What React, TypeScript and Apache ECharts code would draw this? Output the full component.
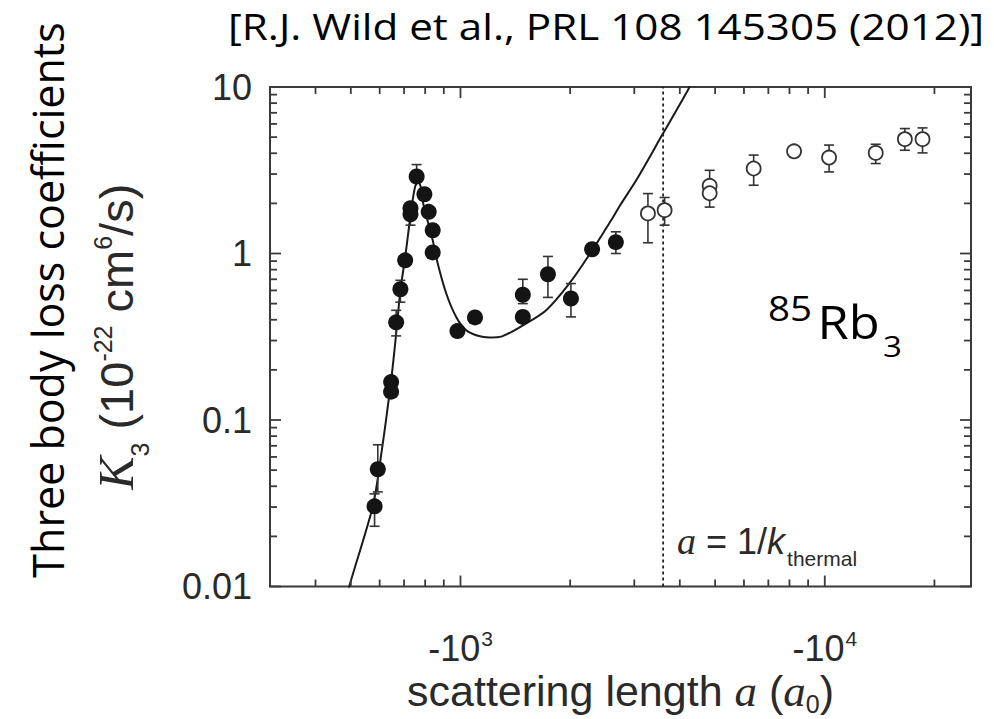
import React, { useEffect, useRef } from 'react';
import * as echarts from 'echarts';

// ---- data ----
// filled points (|a| in a0, K3 in 1e-22 cm^6/s) with error-bar bounds
const filledA = [581, 593, 645, 645, 666, 684, 705, 729, 729, 758, 796, 818, 839, 839, 981, 1096, 1483, 1483, 1738, 2010, 2298, 2670];
const filledK = [0.0303, 0.0506, 0.169, 0.148, 0.386, 0.61, 0.91, 1.72, 1.87, 2.9, 2.27, 1.78, 1.38, 1.015, 0.342, 0.413, 0.565, 0.416, 0.75, 0.537, 1.06, 1.17];
const filledLo = [0.023, 0.037, 0.16, 0.14, 0.32, 0.51, 0.85, 1.48, 1.8, 2.7, 2.1, 1.7, 1.3, 0.96, 0.32, 0.39, 0.5, 0.39, 0.545, 0.416, 1.0, 1.0];
const filledHi = [0.036, 0.071, 0.18, 0.155, 0.456, 0.69, 0.97, 1.8, 1.95, 3.42, 2.45, 1.86, 1.45, 1.07, 0.365, 0.44, 0.7, 0.44, 0.96, 0.66, 1.12, 1.35];

// open points
const openA = [3270, 3634, 4831, 4831, 6380, 8236, 10275, 13800, 16590, 18550];
const openK = [1.74, 1.82, 2.55, 2.3, 3.24, 4.11, 3.77, 4.02, 4.86, 4.86];
const openLo = [1.16, 1.48, 2.2, 1.9, 2.57, 3.8, 3.09, 3.47, 4.17, 4.02];
const openHi = [2.29, 2.17, 3.16, 2.6, 3.9, 4.37, 4.48, 4.53, 5.63, 5.68];

// theory curve
const curveA = [485, 495, 574, 599, 642, 666, 684, 705, 732, 750, 765, 778, 790, 839, 866, 914, 973, 1037, 1110, 1201, 1300, 1483, 1719, 2000, 2310, 2460, 2600, 2735, 3039, 3596, 4212, 4300];
const curveK = [0.0082, 0.01, 0.03, 0.052, 0.158, 0.33, 0.6, 0.95, 1.8, 2.5, 2.72, 2.5, 2.0, 1.2, 0.87, 0.575, 0.416, 0.346, 0.322, 0.313, 0.318, 0.37, 0.456, 0.67, 1.06, 1.32, 1.6, 1.93, 2.76, 5.25, 9.6, 10.6];

// a = 1/k_thermal marker
const thermalA = 3600;

// axes
const xMin = 300;
const xMax = 25200;
const yMin = 0.01;
const yMax = 10;
const xTickValues = [1000, 10000];
const xTickBase = ['-10', '-10'];
const xTickExp = ['3', '4'];
const xMinorTicks = [400, 500, 600, 700, 800, 900, 2000, 3000, 4000, 5000, 6000, 7000, 8000, 9000, 20000];
const yTickValues = [0.01, 0.1, 1, 10];
const yTickLabels = ['0.01', '0.1', '1', '10'];
const yMinorTicks = [0.02, 0.03, 0.04, 0.05, 0.06, 0.07, 0.08, 0.09, 0.2, 0.3, 0.4, 0.5, 0.6, 0.7, 0.8, 0.9, 2, 3, 4, 5, 6, 7, 8, 9];

const AXIS_COLOR = '#3a3a3a';
const TEXT_COLOR = '#2a2a2a';
const SANS = '"Liberation Sans", Arial, sans-serif';
const SERIF = '"Liberation Serif", "Times New Roman", serif';
const CAL = '"Open Sans", "Noto Sans", sans-serif';

export default function App() {
  const ref = useRef<HTMLDivElement>(null);

  useEffect(() => {
    if (!ref.current) return;
    const chart = echarts.init(ref.current, undefined, { renderer: 'svg' });

    const errRender = (params: any, api: any) => {
      const a = api.value(0);
      const lo = api.value(1);
      const hi = api.value(2);
      const p1 = api.coord([a, hi]);
      const p2 = api.coord([a, lo]);
      const w = 5;
      const st = { stroke: '#333', lineWidth: 1.6 };
      return {
        type: 'group',
        children: [
          { type: 'line', shape: { x1: p1[0], y1: p1[1], x2: p2[0], y2: p2[1] }, style: st },
          { type: 'line', shape: { x1: p1[0] - w, y1: p1[1], x2: p1[0] + w, y2: p1[1] }, style: st },
          { type: 'line', shape: { x1: p2[0] - w, y1: p2[1], x2: p2[0] + w, y2: p2[1] }, style: st },
        ],
      };
    };

    const xTickRender = (params: any, api: any) => {
      const cs = params.coordSys;
      const px = api.coord([api.value(0), 1])[0];
      const len = api.value(2) ? 11 : 7;
      const st = { stroke: AXIS_COLOR, lineWidth: 1.8 };
      const top = cs.y;
      const bot = cs.y + cs.height;
      return {
        type: 'group',
        children: [
          { type: 'line', shape: { x1: px, y1: bot, x2: px, y2: bot - len }, style: st },
          { type: 'line', shape: { x1: px, y1: top, x2: px, y2: top + len }, style: st },
        ],
      };
    };

    const yTickRender = (params: any, api: any) => {
      const cs = params.coordSys;
      const py = api.coord([1000, api.value(1)])[1];
      const len = api.value(2) ? 11 : 7;
      const st = { stroke: AXIS_COLOR, lineWidth: 1.8 };
      const l = cs.x;
      const r = cs.x + cs.width;
      return {
        type: 'group',
        children: [
          { type: 'line', shape: { x1: l, y1: py, x2: l + len, y2: py }, style: st },
          { type: 'line', shape: { x1: r, y1: py, x2: r - len, y2: py }, style: st },
        ],
      };
    };

    const fmtX = (v: number) => {
      const i = xTickValues.findIndex((t) => Math.abs(t - v) / t < 1e-6);
      return i < 0 ? '' : '{b|' + xTickBase[i] + '}{s|' + xTickExp[i] + '}';
    };
    const fmtY = (v: number) => {
      const i = yTickValues.findIndex((t) => Math.abs(t - v) / t < 1e-6);
      return i < 0 ? '' : yTickLabels[i];
    };

    const option: any = {
      animation: false,
      backgroundColor: '#ffffff',
      grid: {
        left: 270,
        top: 87,
        width: 701,
        height: 499.5,
        outerBoundsMode: 'none',
        containLabel: false,
        show: true,
        borderColor: AXIS_COLOR,
        borderWidth: 2,
        backgroundColor: 'transparent',
      },
      xAxis: {
        type: 'log',
        logBase: 10,
        min: xMin,
        max: xMax,
        axisLine: { show: false },
        axisTick: { show: false },
        splitLine: { show: false },
        axisLabel: {
          margin: 47,
          formatter: fmtX,
          showMinLabel: false,
          showMaxLabel: false,
          rich: {
            b: { fontFamily: SANS, fontSize: 36, color: TEXT_COLOR, lineHeight: 30, verticalAlign: 'middle' },
            s: { fontFamily: SANS, fontSize: 21, color: TEXT_COLOR, lineHeight: 16, verticalAlign: 'top', padding: [-6, 0, 0, 1] },
          },
        },
        name: 'scattering length {i|a} ({i|a}{sub|0})',
        nameLocation: 'middle',
        nameGap: 84,
        nameMoveOverlap: false,
        nameTextStyle: {
          fontFamily: SANS,
          fontSize: 43,
          lineHeight: 40,
          color: TEXT_COLOR,
          rich: {
            i: { fontFamily: SERIF, fontStyle: 'italic', fontSize: 45, color: TEXT_COLOR, lineHeight: 40 },
            sub: { fontFamily: SANS, fontSize: 25, color: TEXT_COLOR, lineHeight: 40, verticalAlign: 'bottom', padding: [0, 0, -6, 0] },
          },
        },
      },
      yAxis: {
        type: 'log',
        logBase: 10,
        min: yMin,
        max: yMax,
        axisLine: { show: false },
        axisTick: { show: false },
        splitLine: { show: false },
        axisLabel: {
          margin: 18,
          formatter: fmtY,
          fontFamily: SANS,
          fontSize: 36,
          color: TEXT_COLOR,
        },
        name: '{k|K}{sub|3} (10{sup|-22} cm{sup|6}/s)',
        nameLocation: 'middle',
        nameRotate: 90,
        nameGap: 128,
        nameMoveOverlap: false,
        nameTextStyle: {
          fontFamily: SANS,
          fontSize: 47,
          color: TEXT_COLOR,
          padding: [0, 0, 0, 0],
          rich: {
            k: { fontFamily: SERIF, fontStyle: 'italic', fontSize: 50, color: TEXT_COLOR, lineHeight: 52 },
            sub: { fontFamily: SANS, fontSize: 25, color: TEXT_COLOR, lineHeight: 52, verticalAlign: 'bottom', padding: [0, 0, -10, 0] },
            sup: { fontFamily: SANS, fontSize: 25, color: TEXT_COLOR, lineHeight: 52, verticalAlign: 'top' },
          },
        },
      },
      graphic: [
        {
          type: 'text',
          x: 228,
          y: 8,
          scaleX: 1.14,
          style: {
            text: '[R.J. Wild et al., PRL 108 145305 (2012)]',
            fontFamily: CAL,
            fontSize: 37,
            fill: '#000',
            align: 'left',
            verticalAlign: 'top',
          },
        },
        {
          type: 'text',
          x: 47,
          y: 300,
          rotation: Math.PI / 2,
          style: {
            text: 'Three body loss coefficients',
            fontFamily: CAL,
            fontSize: 43,
            fill: '#000',
            align: 'center',
            verticalAlign: 'middle',
          },
        },
        {
          type: 'text',
          x: 768,
          y: 352,
          scaleX: 1.1,
          style: {
            text: '{sup|85}{b|Rb}{sub|3}',
            align: 'left',
            verticalAlign: 'bottom',
            rich: {
              sup: { fontFamily: CAL, fontSize: 35, fill: '#000', lineHeight: 62, verticalAlign: 'top', padding: [0, 5, 0, 0] },
              b: { fontFamily: CAL, fontSize: 46, fill: '#000', lineHeight: 62, verticalAlign: 'middle' },
              sub: { fontFamily: CAL, fontSize: 30, fill: '#000', lineHeight: 62, verticalAlign: 'bottom', padding: [0, 0, -8, 3] },
            },
          },
        },
        {
          type: 'text',
          x: 677,
          y: 521,
          style: {
            text: '{i|a}{n| = 1/}{k|k}{sub|thermal}',
            align: 'left',
            verticalAlign: 'top',
            rich: {
              i: { fontFamily: SERIF, fontStyle: 'italic', fontSize: 38, fill: TEXT_COLOR, lineHeight: 40 },
              n: { fontFamily: SANS, fontSize: 36, fill: TEXT_COLOR, lineHeight: 40 },
              k: { fontFamily: SANS, fontStyle: 'italic', fontSize: 36, fill: TEXT_COLOR, lineHeight: 40 },
              sub: { fontFamily: SANS, fontSize: 21, fill: TEXT_COLOR, lineHeight: 40, verticalAlign: 'bottom', padding: [0, 0, -8, 2] },
            },
          },
        },
      ],
      series: [
        {
          type: 'line',
          data: curveA.map((a, i) => [a, curveK[i]]),
          symbol: 'none',
          smooth: 0.3,
          clip: true,
          lineStyle: { color: '#1a1a1a', width: 2 },
          z: 2,
        },
        {
          type: 'line',
          data: [
            [thermalA, yMin],
            [thermalA, yMax],
          ],
          symbol: 'none',
          lineStyle: { color: '#222', width: 1.8, type: [3, 3] },
          z: 2,
        },
        {
          type: 'custom',
          renderItem: errRender,
          data: filledA.map((a, i) => [a, filledLo[i], filledHi[i]]),
          encode: { x: 0, y: [1, 2] },
          z: 3,
        },
        {
          type: 'custom',
          renderItem: errRender,
          data: openA.map((a, i) => [a, openLo[i], openHi[i]]),
          encode: { x: 0, y: [1, 2] },
          z: 3,
        },
        {
          type: 'scatter',
          data: filledA.map((a, i) => [a, filledK[i]]),
          symbol: 'circle',
          symbolSize: 16,
          itemStyle: { color: '#141414', opacity: 1 },
          z: 5,
        },
        {
          type: 'scatter',
          data: openA.map((a, i) => [a, openK[i]]),
          symbol: 'circle',
          symbolSize: 14,
          itemStyle: { color: '#ffffff', borderColor: '#333', borderWidth: 1.8, opacity: 1 },
          z: 5,
        },
        {
          type: 'custom',
          renderItem: xTickRender,
          clip: false,
          data: [
            ...xTickValues.map((v) => [v, 1, 1]),
            ...xMinorTicks.map((v) => [v, 1, 0]),
          ],
          encode: { x: 0, y: 1 },
          z: 6,
        },
        {
          type: 'custom',
          renderItem: yTickRender,
          clip: false,
          data: [
            ...yTickValues.map((v) => [1000, v, 1]),
            ...yMinorTicks.map((v) => [1000, v, 0]),
          ],
          encode: { x: 0, y: 1 },
          z: 6,
        },
      ],
    };

    chart.setOption(option);
    return () => chart.dispose();
  }, []);

  return (
    <div
      ref={ref}
      style={{ position: 'absolute', left: 0, top: 0, width: 994, height: 719, background: '#fff' }}
    />
  );
}
